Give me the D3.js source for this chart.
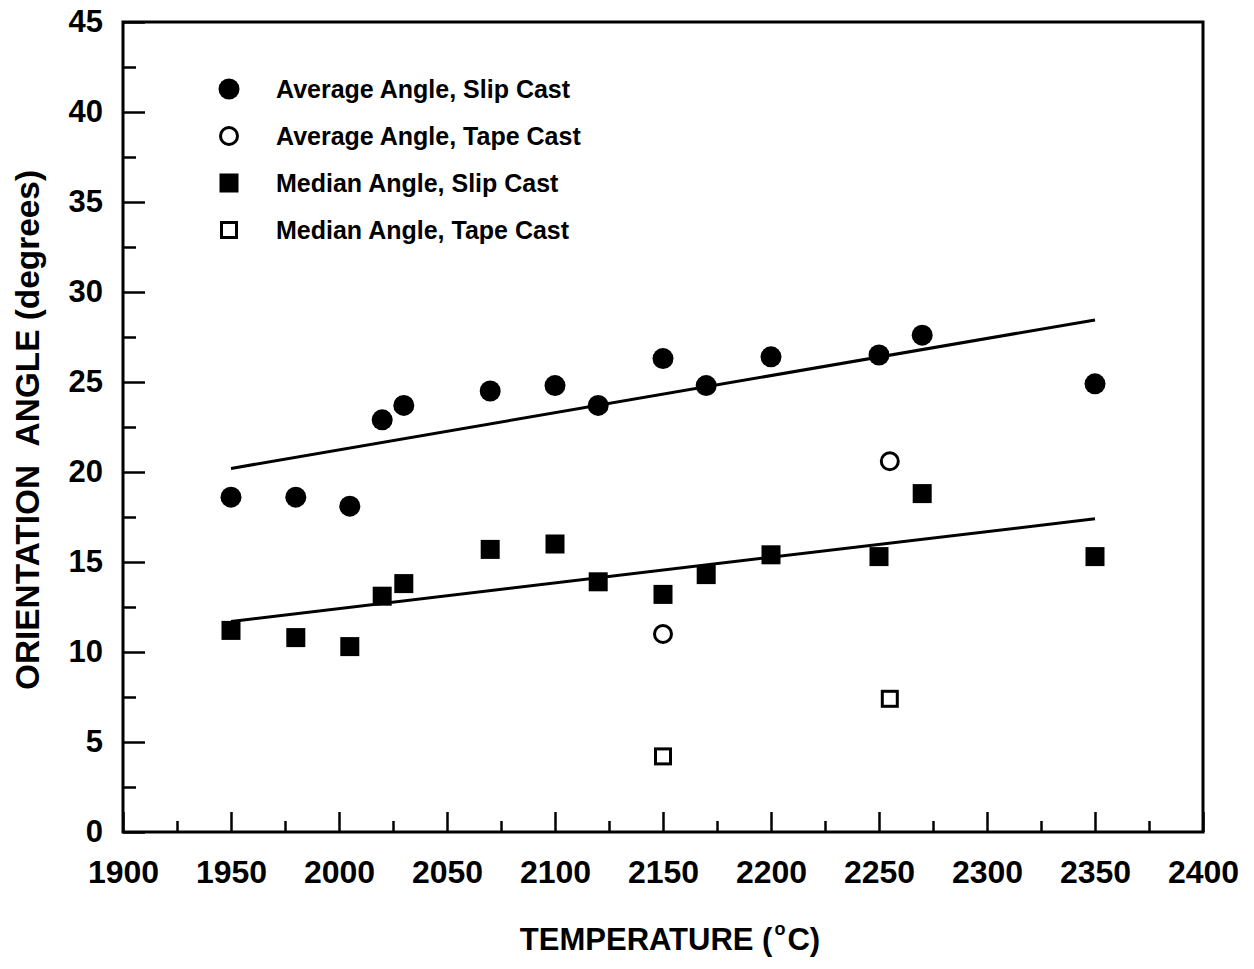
<!DOCTYPE html>
<html>
<head>
<meta charset="utf-8">
<script src="https://cdn.jsdelivr.net/npm/d3@7"></script>
<style>
  html, body { margin: 0; padding: 0; background: #fff; }
  svg { display: block; }
  text { font-family: "Liberation Sans", Arial, Helvetica, sans-serif; font-weight: bold; fill: #000; }
</style>
</head>
<body>
<svg id="chart" width="1254" height="969"></svg>
<script>
// ---- Data ----
const avgSlipTemp = [1950, 1980, 2005, 2020, 2030, 2070, 2100, 2120, 2150, 2170, 2200, 2250, 2270, 2350];
const avgSlipAngle = [18.6, 18.6, 18.1, 22.9, 23.7, 24.5, 24.8, 23.7, 26.3, 24.8, 26.4, 26.5, 27.6, 24.9];

const avgTapeTemp = [2150, 2255];
const avgTapeAngle = [11.0, 20.6];

const medSlipTemp = [1950, 1980, 2005, 2020, 2030, 2070, 2100, 2120, 2150, 2170, 2200, 2250, 2270, 2350];
const medSlipAngle = [11.2, 10.8, 10.3, 13.1, 13.8, 15.7, 16.0, 13.9, 13.2, 14.3, 15.4, 15.3, 18.8, 15.3];

const medTapeTemp = [2150, 2255];
const medTapeAngle = [4.2, 7.4];

const fitTemp = [1950, 2350];
const fitAvgAngle = [20.2, 28.45];
const fitMedAngle = [11.7, 17.4];

const xTicks = [1900, 1950, 2000, 2050, 2100, 2150, 2200, 2250, 2300, 2350, 2400];
const yTicks = [0, 5, 10, 15, 20, 25, 30, 35, 40, 45];

const legendLabels = [
  "Average Angle, Slip Cast",
  "Average Angle, Tape Cast",
  "Median Angle, Slip Cast",
  "Median Angle, Tape Cast"
];
const legendSymbols = ["filledCircle", "openCircle", "filledSquare", "openSquare"];

// ---- Layout ----
const svg = d3.select("#chart");
const mLeft = 123, mRight = 1203, mTop = 22, mBottom = 832;

const x = d3.scaleLinear().domain([1900, 2400]).range([mLeft, mRight]);
const y = d3.scaleLinear().domain([0, 45]).range([mBottom, mTop]);

// frame
svg.append("rect")
  .attr("x", mLeft).attr("y", mTop)
  .attr("width", mRight - mLeft).attr("height", mBottom - mTop)
  .attr("fill", "none").attr("stroke", "#000").attr("stroke-width", 3);

// axes with inward ticks
const xMinor = d3.range(1925, 2400, 50);
const yMinor = d3.range(2.5, 45, 5);

const gx = svg.append("g").attr("transform", `translate(0,${mBottom})`);
gx.call(d3.axisBottom(x).tickValues(xTicks).tickSize(-20).tickPadding(28).tickFormat(d3.format("d")));
gx.append("g").call(d3.axisBottom(x).tickValues(xMinor).tickSize(-11).tickFormat(""));
gx.selectAll(".domain").remove();
gx.selectAll("line").attr("stroke", "#000").attr("stroke-width", 2.5);
gx.selectAll("text").attr("font-size", 32).attr("dy", "0.71em").attr("font-family", "Liberation Sans, Arial, sans-serif").attr("font-weight", "bold");

const gy = svg.append("g").attr("transform", `translate(${mLeft},0)`);
gy.call(d3.axisLeft(y).tickValues(yTicks).tickSize(-22).tickPadding(20).tickFormat(d3.format("d")));
gy.append("g").call(d3.axisLeft(y).tickValues(yMinor).tickSize(-13).tickFormat(""));
gy.selectAll(".domain").remove();
gy.selectAll("line").attr("stroke", "#000").attr("stroke-width", 2.5);
gy.selectAll("text").attr("font-size", 31).attr("font-family", "Liberation Sans, Arial, sans-serif").attr("font-weight", "bold");

// fit lines
const line = d3.line().x(d => x(d[0])).y(d => y(d[1]));
svg.append("path").datum(d3.zip(fitTemp, fitAvgAngle))
  .attr("d", line).attr("fill", "none").attr("stroke", "#000").attr("stroke-width", 3);
svg.append("path").datum(d3.zip(fitTemp, fitMedAngle))
  .attr("d", line).attr("fill", "none").attr("stroke", "#000").attr("stroke-width", 3);

// markers
function drawSymbol(g, kind, cx, cy) {
  if (kind === "filledCircle") {
    g.append("circle").attr("cx", cx).attr("cy", cy).attr("r", 10.5).attr("fill", "#000");
  } else if (kind === "openCircle") {
    g.append("circle").attr("cx", cx).attr("cy", cy).attr("r", 8.5)
      .attr("fill", "#fff").attr("stroke", "#000").attr("stroke-width", 3);
  } else if (kind === "filledSquare") {
    g.append("rect").attr("x", cx - 9.5).attr("y", cy - 9.5).attr("width", 19).attr("height", 19).attr("fill", "#000");
  } else {
    g.append("rect").attr("x", cx - 7.5).attr("y", cy - 7.5).attr("width", 15).attr("height", 15)
      .attr("fill", "#fff").attr("stroke", "#000").attr("stroke-width", 3);
  }
}

const marks = svg.append("g");
d3.zip(avgSlipTemp, avgSlipAngle).forEach(d => drawSymbol(marks, "filledCircle", x(d[0]), y(d[1])));
d3.zip(avgTapeTemp, avgTapeAngle).forEach(d => drawSymbol(marks, "openCircle", x(d[0]), y(d[1])));
d3.zip(medSlipTemp, medSlipAngle).forEach(d => drawSymbol(marks, "filledSquare", x(d[0]), y(d[1])));
d3.zip(medTapeTemp, medTapeAngle).forEach(d => drawSymbol(marks, "openSquare", x(d[0]), y(d[1])));

// legend
const legend = svg.append("g");
const legendRowY = [89, 136, 183, 230];
legendLabels.forEach((lab, i) => {
  drawSymbol(legend, legendSymbols[i], 229, legendRowY[i]);
  legend.append("text").attr("x", 276).attr("y", legendRowY[i]).attr("dy", "0.36em")
    .attr("font-size", 25).text(lab);
});

// axis titles
svg.append("text")
  .attr("transform", "translate(39,430) rotate(-90)")
  .attr("text-anchor", "middle").attr("font-size", 33)
  .attr("textLength", 520).attr("lengthAdjust", "spacingAndGlyphs")
  .text("ORIENTATION\u00A0\u00A0ANGLE (degrees)");

// x-axis title drawn as separate pieces laid out left to right
const xtY = 950;
const xtParts = [
  { t: "TEMPERATURE (", size: 31, dy: 0 },
  { t: "o", size: 18, dy: -15 },
  { t: "C)", size: 31, dy: 0 }
];
const xtG = svg.append("g");
const xtNodes = xtParts.map(p => xtG.append("text")
  .attr("y", xtY + p.dy).attr("font-size", p.size).text(p.t));
const gap = 2;
const widths = xtNodes.map(n => n.node().getComputedTextLength());
const total = d3.sum(widths) + gap * (widths.length - 1);
let cursor = 670 - total / 2;
xtNodes.forEach((n, i) => { n.attr("x", cursor); cursor += widths[i] + gap; });
</script>
</body>
</html>
